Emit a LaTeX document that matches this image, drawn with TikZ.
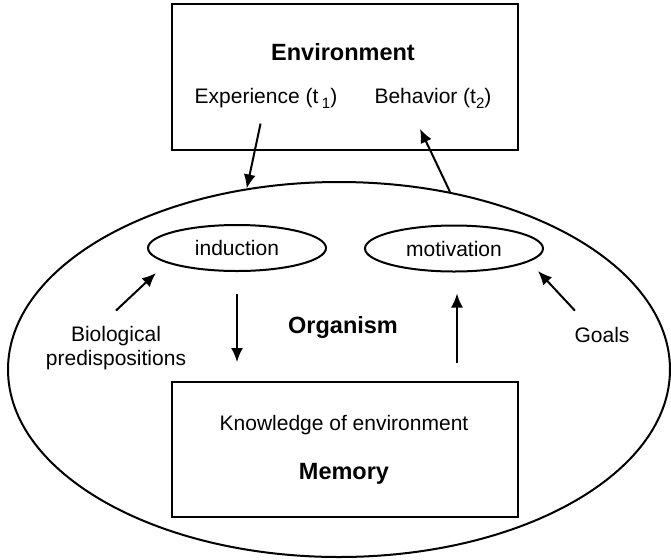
\documentclass[tikz,border=0pt]{standalone}
\usepackage{fontspec}
\setmainfont{Liberation Sans}
\usetikzlibrary{arrows.meta,shapes.geometric}
\newcommand{\lowsub}[1]{\raisebox{-2.5pt}{\fontsize{7.5}{8}\selectfont #1}}

\begin{document}
\begin{tikzpicture}[
  x=0.5pt, y=-0.5pt,
  line width=1pt,
  every node/.style={font=\fontsize{10.5}{12}\selectfont},
  title/.style={font=\fontsize{11.75}{14}\selectfont\bfseries},
  box/.style={draw, rectangle, minimum width=173pt, minimum height=#1},
  oval/.style={draw, ellipse, minimum width=89pt, minimum height=23pt},
  arrow/.style={-{Latex[length=7pt,width=6pt]}}
]
\useasboundingbox (0,0) rectangle (671,559);

\node[box=73pt] (env) at (344.5,77) {};
\node[title] (envlabel) at (343,52) {Environment};
\node (exper) at (266,98) {Experience (t\,\lowsub{1})};
\node (behav) at (433,98) {Behavior (t\lowsub{2})};

\node[draw, ellipse, minimum width=331pt, minimum height=187.5pt] (organism) at (339,369.5) {};
\node[title] (orglabel) at (343,327) {Organism};

\node[oval] (induction) at (237,248) {induction};
\node[oval] (motivation) at (454,248.5) {motivation};

\node[align=center] (bio) at (116,348) {Biological\\predispositions};
\node (goals) at (602,335) {Goals};

\node[box=67.5pt] (memory) at (345,449.5) {};
\node (knowledge) at (344,425) {Knowledge of environment};
\node[title] (memlabel) at (344,474) {Memory};

\draw[arrow, shorten <=4pt] (exper) -- (organism.117.6);
\draw[arrow] (organism.58.7) -- ([xshift=-6.5pt,yshift=-6.5pt]behav.south);
\draw[arrow] ([yshift=4pt]bio.north) -- ([xshift=4.5pt,yshift=-12.5pt]induction.west);
\draw[arrow] ([xshift=4pt,yshift=4.5pt]goals.north west) -- ([xshift=-3pt,yshift=-11.25pt]motivation.east);
\draw[arrow, shorten <=11pt, shorten >=9.5pt] (induction.south) -- (induction.south |- memory.north);
\draw[arrow, shorten <=9pt, shorten >=10.5pt] ([xshift=1.5pt]motivation.south |- memory.north) -- ([xshift=1.5pt]motivation.south);
\end{tikzpicture}
\end{document}
